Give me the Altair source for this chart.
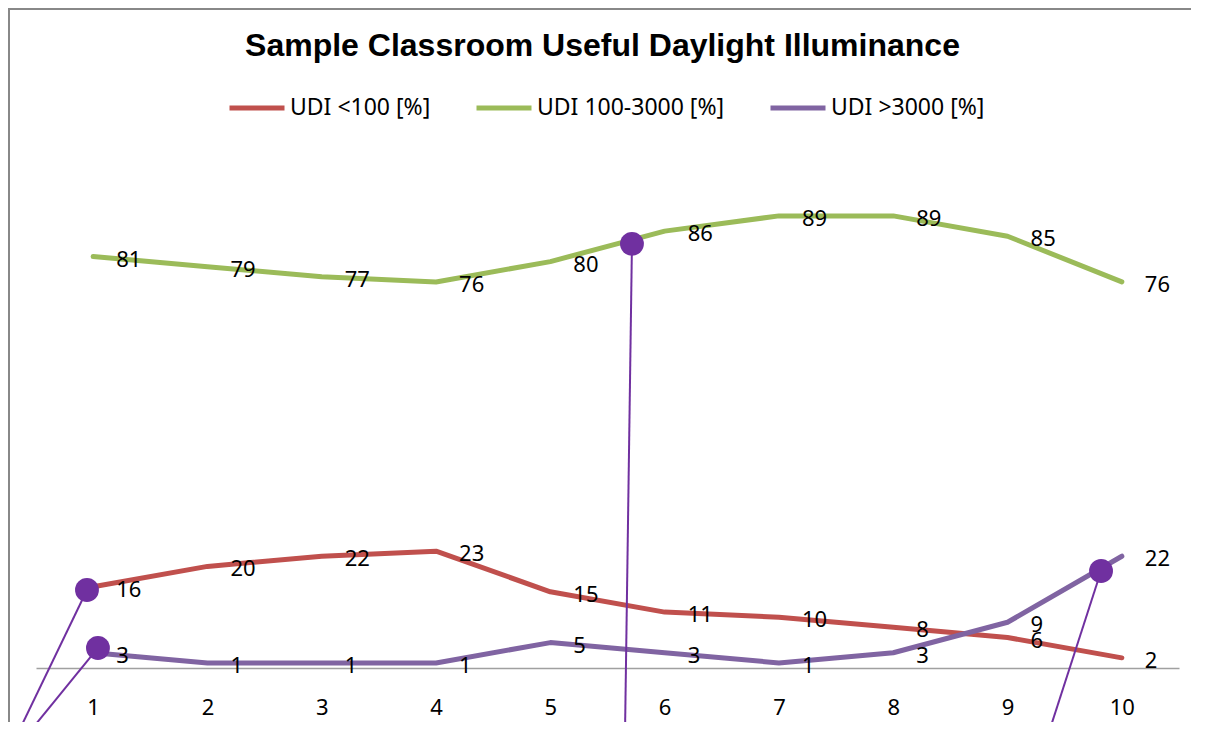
import altair as alt
import pandas as pd

categories = [1, 2, 3, 4, 5, 6, 7, 8, 9, 10]
series_names = ["UDI <100 [%]", "UDI 100-3000 [%]", "UDI >3000 [%]"]
udi_low = [16, 20, 22, 23, 15, 11, 10, 8, 6, 2]
udi_useful = [81, 79, 77, 76, 80, 86, 89, 89, 85, 76]
udi_high = [3, 1, 1, 1, 5, 3, 1, 3, 9, 22]
series_colors = ["#C0504D", "#9BBB59", "#8064A2"]

# callout leader lines (data units)
call_x = [0.946, 1.042, 5.714, 9.818]
call_y = [15.35, 3.94, 83.5, 19.1]
call_x_end = [0.334, 0.421, 5.653, 9.354]
call_y_end = [-13.2, -13.2, -13.2, -13.2]

rows = []
for name, vals in zip(series_names, [udi_low, udi_useful, udi_high]):
    for c, v in zip(categories, vals):
        rows.append({"cat": c, "value": v, "series": name})
df = pd.DataFrame(rows)

calls = pd.DataFrame({"cx": call_x, "cy": call_y, "cx2": call_x_end, "cy2": call_y_end})

FONT = "Noto Sans"

x_enc = alt.X(
    "cat:Q",
    scale=alt.Scale(domain=[0.5, 10.5], nice=False, zero=False),
    axis=alt.Axis(
        values=categories, title=None, grid=False, ticks=False, tickSize=0,
        labelPadding=29, labelFontSize=22, labelFont=FONT, labelColor="black",
        domainColor="#A0A0A0", domainWidth=1.5, format="d", labelFlush=False,
    ),
)
y_enc = alt.Y("value:Q", scale=alt.Scale(domain=[0, 100], nice=False, zero=False), axis=None)

legend = alt.Legend(
    orient="none", legendX=191, legendY=-82, direction="horizontal", title=None,
    symbolType="stroke", symbolSize=3025, symbolStrokeWidth=5,
    labelFont=FONT, labelFontSize=23, labelColor="black", labelLimit=0,
    columnPadding=35, labelOffset=3, padding=0, columns=3,
)
color_enc = alt.Color(
    "series:N", scale=alt.Scale(domain=series_names, range=series_colors), legend=legend
)

base = alt.Chart(df)
layers = []
for name in series_names:
    layers.append(
        base.transform_filter(alt.datum.series == name)
        .mark_line(strokeWidth=5, strokeCap="round", strokeJoin="round")
        .encode(x=x_enc, y=y_enc, color=color_enc)
    )
for name in series_names:
    layers.append(
        base.transform_filter(alt.datum.series == name)
        .mark_text(align="left", baseline="middle", dx=23, dy=3, font=FONT, fontSize=22, color="black")
        .encode(x="cat:Q", y="value:Q", text="value:Q")
    )

call_lines = alt.Chart(calls).mark_rule(color="#7030A0", strokeWidth=2).encode(
    x="cx:Q", y="cy:Q", x2="cx2:Q", y2="cy2:Q"
)
call_dots = alt.Chart(calls).mark_circle(size=570, color="#7030A0", opacity=1).encode(
    x="cx:Q", y="cy:Q"
)

# chart frame: only its top and left edges fall inside the page
one = alt.Data(values=[{"a": 1}])
frame = alt.Chart(one).mark_rect(fill="transparent", stroke="#888888", strokeWidth=2).encode(
    x=alt.value(-27), x2=alt.value(1250), y=alt.value(-151), y2=alt.value(700)
)

chart = alt.layer(*layers, call_lines, call_dots, frame).properties(
    width=1143,
    height=508,
    title=alt.TitleParams(
        "Sample Classroom Useful Daylight Illuminance",
        font="Liberation Sans", fontSize=32, fontWeight="bold", color="black",
        anchor="middle", dx=-5, offset=0, baseline="alphabetic", dy=80,
    ),
    autosize=alt.AutoSizeParams(type="none"),
    padding={"left": 28, "top": 152, "right": 12, "bottom": 54},
).configure(background="white").configure_view(strokeWidth=0, stroke="transparent")

chart.save("out.html", embed_options={"renderer": "svg", "actions": False})
